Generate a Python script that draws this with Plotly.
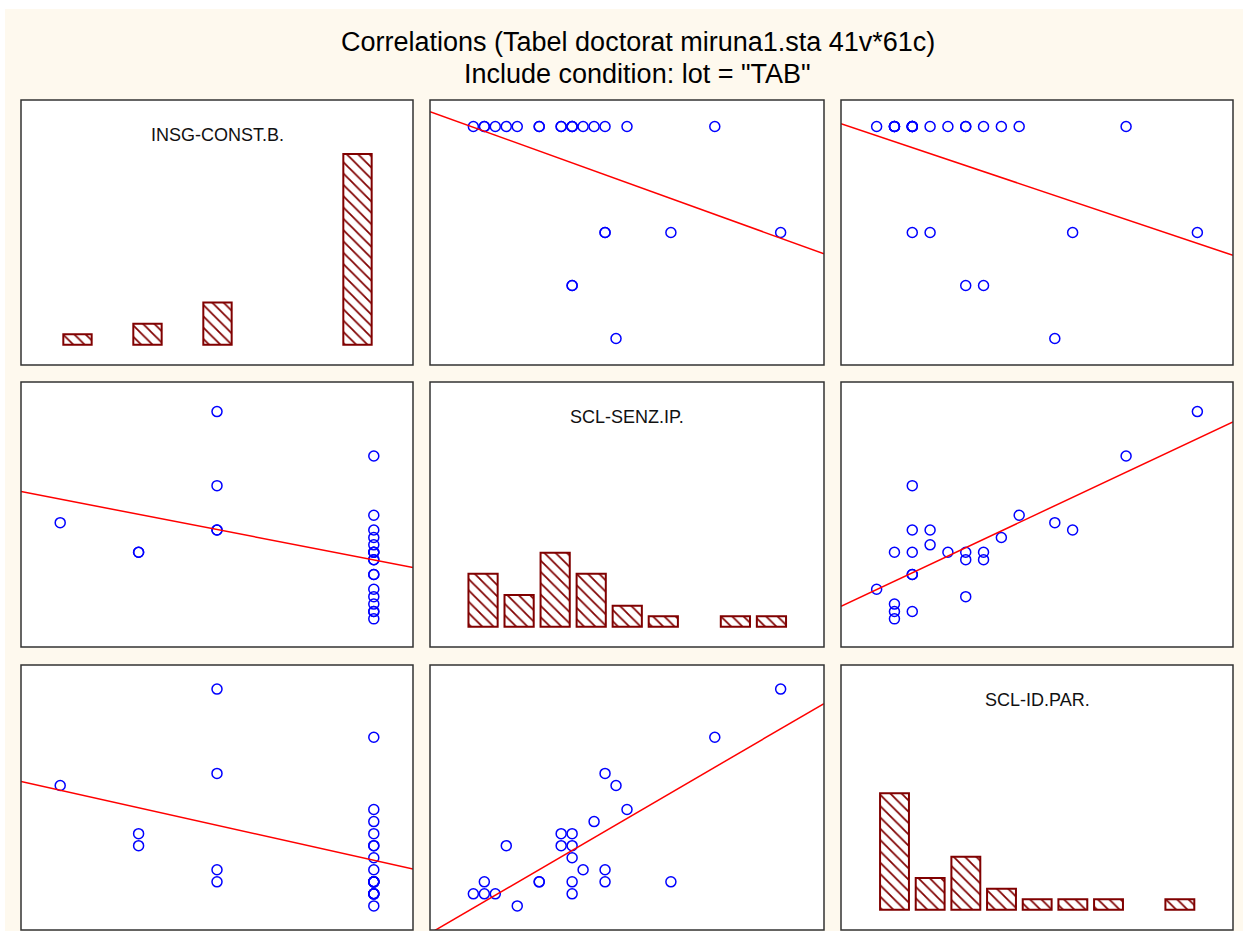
import numpy as np
import plotly.graph_objects as go

# Variable names (diagonal labels)
var_names = ["INSG-CONST.B.", "SCL-SENZ.IP.", "SCL-ID.PAR."]

# Case values (lot = "TAB", 25 cases)
insg_const = [5, 5, 5, 5, 5, 5, 5, 5, 5, 5, 5, 5, 5, 5, 5, 5, 5, 5,
              3, 3, 3, 3, 2, 2, 1]
scl_senz = [22, 14, 11, 8, 3, 8, 9, 10, 12, 1, 6, 6, 9, 0, 1, 2, 9, 4,
            28, 18, 12, 12, 9, 9, 13]
scl_idpar = [14, 8, 7, 6, 5, 5, 4, 3, 2, 2, 2, 2, 2, 1, 1, 1, 1, 0,
             18, 2, 11, 3, 6, 5, 10]

# Histogram bins (bin index) and frequencies for each variable
hist_bins = [1, 2, 3, 4, 5, 6, 7, 8, 9]
hist_insg = [1, 0, 2, 0, 4, 0, 0, 0, 18]
hist_senz = [5, 3, 7, 5, 2, 1, 0, 1, 1]
hist_idpar = [11, 3, 5, 2, 1, 1, 1, 0, 1]

data = [insg_const, scl_senz, scl_idpar]
hists = [hist_insg, hist_senz, hist_idpar]

W, H = 1243, 931
col_px = [(21, 413), (430, 824), (841, 1233)]
row_px = [(100, 365), (382, 647), (665, 930)]

# scatter axis ranges per variable
x_rng = [[0.5, 5.5], [-3.95, 31.95], [-2.0, 20.0]]
y_rng = [[0.5, 5.5], [-3.8, 32.0], [-2.0, 20.0]]
# histogram axis ranges
hx_rng = [[-0.614, 10.586], [-0.472, 10.458], [-0.5, 10.49]]
hy_rng = [-1.9, 23.1]

FONT = "Liberation Sans, Arial, sans-serif"
CREAM = "#FEF9EE"
fig = go.Figure()
layout = dict(
    width=W, height=H, autosize=False,
    margin=dict(l=0, r=0, t=0, b=0),
    paper_bgcolor=CREAM, plot_bgcolor="white",
    showlegend=False, font=dict(family=FONT, color="black"),
)
# thin white strips along the top and left edges of the page
shapes = [
    dict(type="rect", xref="paper", yref="paper", layer="below",
         x0=0, x1=1, y0=1 - 9 / H, y1=1, fillcolor="white",
         line=dict(width=0)),
    dict(type="rect", xref="paper", yref="paper", layer="below",
         x0=0, x1=5 / W, y0=0, y1=1, fillcolor="white",
         line=dict(width=0)),
]
annotations = []

for r in range(3):
    for c in range(3):
        k = r * 3 + c + 1
        xa = "xaxis" if k == 1 else f"xaxis{k}"
        ya = "yaxis" if k == 1 else f"yaxis{k}"
        xr = "x" if k == 1 else f"x{k}"
        yr = "y" if k == 1 else f"y{k}"
        x0p, x1p = col_px[c]
        y0p, y1p = row_px[r]
        dom_x = [x0p / W, x1p / W]
        dom_y = [1 - y1p / H, 1 - y0p / H]
        common = dict(showticklabels=False, showgrid=False, zeroline=False,
                      ticks="", showline=False, fixedrange=True)
        if r == c:
            xrange, yrange = hx_rng[c], hy_rng
            bx = [b for b, n in zip(hist_bins, hists[c]) if n > 0]
            by = [n for n in hists[c] if n > 0]
            fig.add_trace(go.Bar(
                x=bx, y=by, width=0.81,
                marker=dict(color="white",
                            line=dict(color="#800000", width=2),
                            pattern=dict(shape="\\", fgcolor="#800000",
                                         bgcolor="white", fgopacity=1,
                                         size=8, solidity=0.22)),
                xaxis=xr, yaxis=yr, hoverinfo="skip"))
            annotations.append(dict(
                text=var_names[c], xref="paper", yref="paper",
                x=(x0p + x1p) / 2 / W, y=1 - (y0p + 35) / H,
                xanchor="center", yanchor="middle", showarrow=False,
                font=dict(family=FONT, size=18, color="#111111")))
        else:
            xv = np.array(data[c], dtype=float)
            yv = np.array(data[r], dtype=float)
            xrange, yrange = x_rng[c], y_rng[r]
            fig.add_trace(go.Scatter(
                x=xv, y=yv, mode="markers",
                marker=dict(symbol="circle-open", size=10, color="#0000FF",
                            line=dict(width=1.5, color="#0000FF")),
                xaxis=xr, yaxis=yr, hoverinfo="skip", cliponaxis=True))
            slope, icpt = np.polyfit(xv, yv, 1)
            lx = np.array(xrange)
            fig.add_trace(go.Scatter(
                x=lx, y=slope * lx + icpt, mode="lines",
                line=dict(color="#FF0000", width=1.5),
                xaxis=xr, yaxis=yr, hoverinfo="skip"))
        layout[xa] = dict(domain=dom_x, range=xrange, anchor=yr, **common)
        layout[ya] = dict(domain=dom_y, range=yrange, anchor=xr, **common)
        shapes.append(dict(type="rect", xref="paper", yref="paper",
                           layer="above",
                           x0=dom_x[0], x1=dom_x[1], y0=dom_y[0], y1=dom_y[1],
                           line=dict(color="#333333", width=1.5)))

annotations.append(dict(
    text="Correlations (Tabel doctorat miruna1.sta 41v*61c)",
    xref="paper", yref="paper", x=637.5 / W, y=1 - 42 / H,
    xanchor="center", yanchor="middle", showarrow=False,
    font=dict(family=FONT, size=27, color="black")))
annotations.append(dict(
    text='Include condition: lot = "TAB"',
    xref="paper", yref="paper", x=637.5 / W, y=1 - 74 / H,
    xanchor="center", yanchor="middle", showarrow=False,
    font=dict(family=FONT, size=27, color="black")))

layout["shapes"] = shapes
layout["annotations"] = annotations
fig.update_layout(**layout)
fig.write_html("out.html")
